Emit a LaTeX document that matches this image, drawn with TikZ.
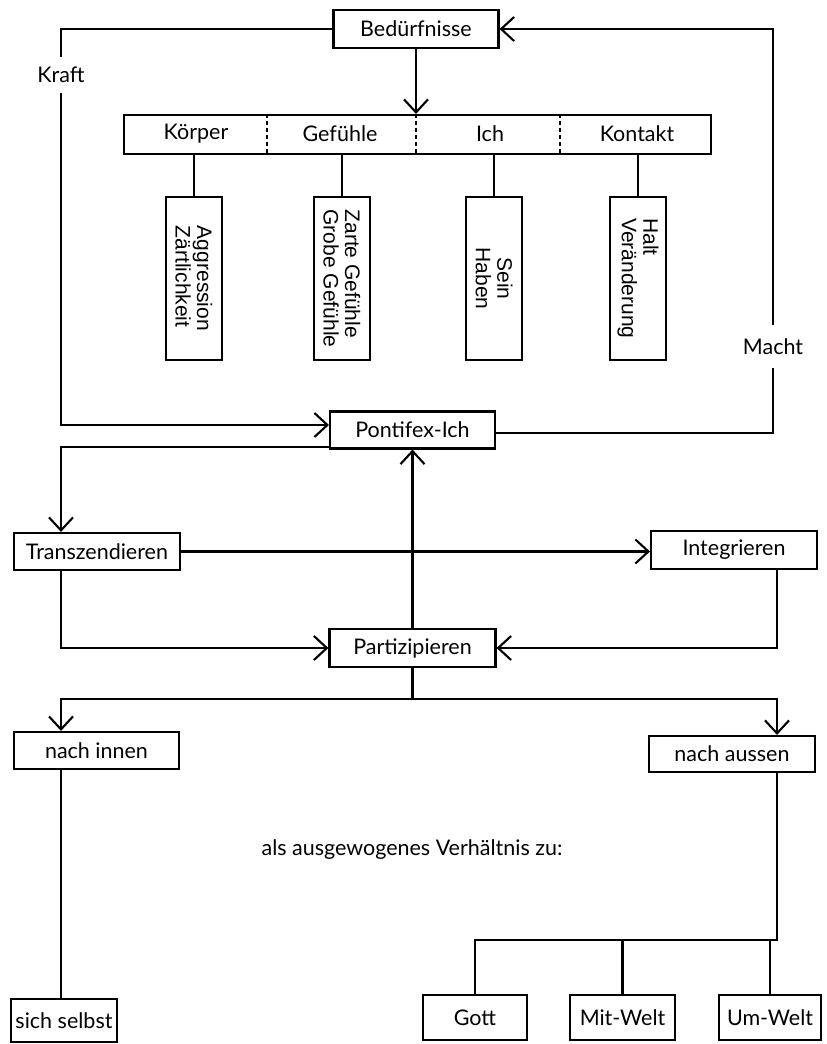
\documentclass[tikz,border=0pt]{standalone}
\usepackage{fontspec}
\setmainfont{Lato}
\newfontfamily\vfont{Liberation Sans}
\usetikzlibrary{arrows.meta}
\begin{document}
\begin{tikzpicture}[x=1pt,y=-1pt,line width=2.1pt,
  box/.style={draw,line width=2.1pt,inner sep=0pt,font=\fontsize{21.5}{24}\selectfont},
  vbox/.style={draw,line width=2.1pt,rotate=-90,minimum width=163pt,minimum height=56pt,inner sep=0pt,font=\vfont\fontsize{21}{21.5}\selectfont},
  lbl/.style={inner sep=0pt,font=\fontsize{21.5}{24}\selectfont},
  arr/.style={-{Straight Barb[length=13pt,width=24pt]}},
  divider/.style={line width=1.6pt,dash pattern=on 4pt off 3pt}]
\useasboundingbox (0,0) rectangle (827,1044);

% top
\node[box,minimum width=165pt,minimum height=38pt] (bed) at (416,29) {Bedürfnisse};
\node[draw,line width=2.1pt,minimum width=587pt,minimum height=39pt,inner sep=0pt] (bar) at (417.5,134.5) {};
\node[lbl] (k1) at (196,134) {Körper};
\node[lbl] (k2) at (340,134) {Gefühle};
\node[lbl] (k3) at (490,134) {Ich};
\node[lbl] (k4) at (637,134) {Kontakt};
\coordinate (d1) at (267,0);
\coordinate (d2) at (416,0);
\coordinate (d3) at (560,0);
\draw[divider] (bar.north -| d1) -- (bar.south -| d1);
\draw[divider] (bar.north -| d2) -- (bar.south -| d2);
\draw[divider] (bar.north -| d3) -- (bar.south -| d3);

\node[vbox,align=left] (va) at (194,278.5) {Aggression\\Zärtlichkeit};
\node[vbox,align=left] (vb) at (342,278.5) {Zarte Gefühle\\Grobe Gefühle};
\node[vbox,align=center] (vc) at (494,278.5) {Sein\\Haben};
\node[vbox,align=left] (vd) at (638,278.5) {Halt\\Veränderung};
\draw (va.west) -- (va.west |- bar.south);
\draw (vb.west) -- (vb.west |- bar.south);
\draw (vc.west) -- (vc.west |- bar.south);
\draw (vd.west) -- (vd.west |- bar.south);

\draw[arr] (bed.south) -- (bed.south |- bar.north);

% Kraft / Macht
\node[lbl,minimum height=34pt] (kraft) at (61,75) {Kraft};
\node[lbl,minimum height=41pt] (macht) at (773,346.5) {Macht};

% middle
\node[box,minimum width=165pt,minimum height=37pt] (pont) at (412.5,430) {Pontifex-Ich};
\node[box,minimum width=166pt,minimum height=37pt] (trans) at (97,551.5) {Transzendieren};
\node[box,minimum width=166pt,minimum height=38pt] (integ) at (734,550) {Integrieren};
\node[box,minimum width=166pt,minimum height=38pt] (part) at (412.5,648) {Partizipieren};

\coordinate (xL) at (61,0);
\coordinate (xR) at (777,0);

\draw (bed.west) -| (kraft.north);
\draw[arr] (kraft.south) |- ([yshift=5pt]pont.west);
\draw ([yshift=-3pt]pont.east) -| (macht.south);
\draw[arr] (macht.north) |- (bed.east);
\draw[arr] ([yshift=2.5pt]pont.south west) -| (trans.north -| xL);
\draw[arr] (trans.east) -- (trans.east -| integ.west);
\draw[arr] (part.north) -- (pont.south);
\draw[arr] (trans.south -| xL) |- (part.west);
\draw[arr] (integ.south -| xR) |- (part.east);

% bottom
\node[box,minimum width=165pt,minimum height=37pt] (innen) at (96.5,750.5) {nach innen};
\node[box,minimum width=166pt,minimum height=36pt] (aussen) at (732,754) {nach aussen};
\coordinate (split) at (412.5,699);
\draw (part.south) -- (split);
\draw[arr] (split) -| (innen.north -| xL);
\draw[arr] (split) -| (aussen.north -| xR);

\node[lbl] (txt) at (412,850) {als ausgewogenes Verhältnis zu:};

\node[box,minimum width=106pt,minimum height=43pt] (sich) at (64,1020.5) {sich selbst};
\draw (innen.south -| xL) -- (sich.north -| xL);

\node[box,minimum width=104pt,minimum height=45pt] (gott) at (475,1017.5) {Gott};
\node[box,minimum width=105pt,minimum height=45pt] (mit) at (622.5,1017.5) {Mit-Welt};
\node[box,minimum width=102pt,minimum height=45pt] (um) at (770,1017.5) {Um-Welt};
\coordinate (br) at (777,940);
\draw (aussen.south -| xR) -- (br) -- (br -| gott.north) -- (gott.north);
\draw (br -| mit.north) -- (mit.north);
\draw (br -| um.north) -- (um.north);
\end{tikzpicture}
\end{document}
